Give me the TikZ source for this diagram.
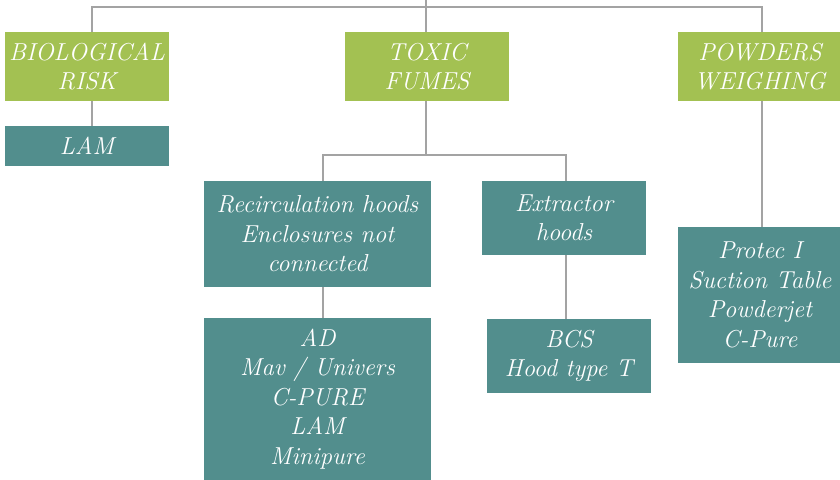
\documentclass[tikz,border=0pt]{standalone}
\usepackage{tikz}
\usetikzlibrary{positioning}
\definecolor{leafgreen}{HTML}{A3C152}
\definecolor{hoodteal}{HTML}{528E8D}
\definecolor{linkgray}{HTML}{A3A3A3}

\begin{document}
\begin{tikzpicture}[x=1pt, y=-1pt,
    greenbox/.style={rectangle, fill=leafgreen, text=white, inner sep=0pt, align=center,
      font=\fontsize{24.5}{28.5}\selectfont\itshape},
    tealbox/.style={rectangle, fill=hoodteal, text=white, inner sep=0pt, align=center,
      font=\fontsize{24.5}{29.5}\selectfont\itshape},
    link/.style={line width=2.5pt, color=linkgray}]

    \useasboundingbox (0,0) rectangle (840,479);

    \node (bio) [greenbox, minimum width=164, minimum height=69] at (87,66.5) {BIOLOGICAL\\RISK};
    \node (toxic) [greenbox, minimum width=164, minimum height=69] at (427,66.5) {TOXIC\\FUMES};
    \node (powders) [greenbox, minimum width=164, minimum height=69] at (760,66.5) {POWDERS\\WEIGHING};

    \node (lam) [tealbox, minimum width=164, minimum height=40] at (87,146) {LAM};

    \node (recirc) [tealbox, minimum width=227, minimum height=106] at (317.5,234) {Recirculation hoods\\Enclosures not\\connected};
    \node (extract) [tealbox, minimum width=164, minimum height=74] at (564,218) {Extractor\\hoods};
    \node (recirclist) [tealbox, minimum width=227, minimum height=162] at (317.5,399) {AD\\Mav / Univers\\C-PURE\\LAM\\Minipure};
    \node (extractlist) [tealbox, minimum width=164, minimum height=74] at (569,356) {BCS\\Hood type T};
    \node (protec) [tealbox, minimum width=164, minimum height=136] at (760,295) {Protec I\\Suction Table\\Powderjet\\C-Pure};

    \coordinate (root) at (426,0);
    \coordinate (topbar) at (426,7);
    \coordinate (fumesbar) at (426,155);

    % top level
    \draw [link] (root) -- ([xshift=-1]toxic.north);
    \draw [link] ([xshift=5]bio.north) |- (topbar) -| ([xshift=2]powders.north);

    % second level
    \draw [link] ([xshift=5]bio.south) -- ([xshift=5]lam.north);
    \draw [link] ([xshift=-1]toxic.south) -- (fumesbar);
    \draw [link] ([xshift=5.5]recirc.north) |- (fumesbar) -| ([xshift=2]extract.north);
    \draw [link] ([xshift=2]powders.south) -- ([xshift=2]protec.north);

    % third level
    \draw [link] ([xshift=5.5]recirc.south) -- ([xshift=5.5]recirclist.north);
    \draw [link] ([xshift=2]extract.south) -- ([xshift=-3]extractlist.north);
\end{tikzpicture}
\end{document}
